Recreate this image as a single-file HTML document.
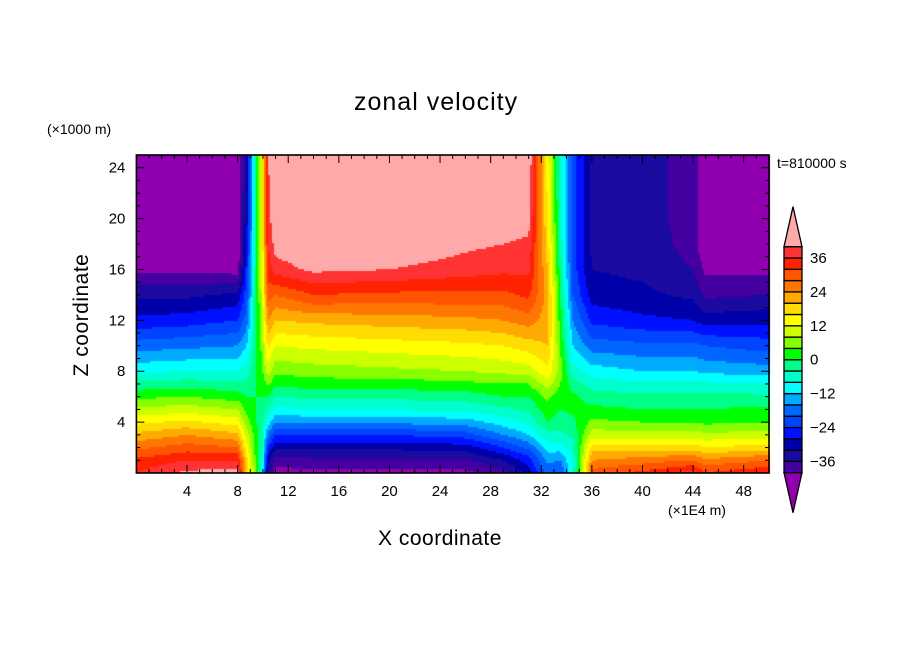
<!DOCTYPE html>
<html><head><meta charset="utf-8"><style>
body{margin:0;background:#fff;}
#wrap{position:relative;width:904px;height:654px;overflow:hidden;font-family:"Liberation Sans",sans-serif;}
.t{position:absolute;white-space:nowrap;color:#000;}
</style></head><body>
<div id="wrap">
<canvas id="cv" width="904" height="654" style="position:absolute;left:0;top:0"></canvas>
<svg id="sv" width="904" height="654" style="position:absolute;left:0;top:0"></svg>
<div class="t" style="left:354px;top:88px;font-size:25px;letter-spacing:1px">zonal velocity</div>
<div class="t" style="left:47px;top:121px;font-size:14px">(×1000 m)</div>
<div class="t" style="left:777px;top:155px;font-size:14px">t=810000 s</div>
<div class="t" style="left:668px;top:502px;font-size:14px">(×1E4 m)</div>
<div class="t" style="left:378px;top:527px;font-size:21px;letter-spacing:0.5px">X coordinate</div>
<div class="t" style="left:82px;top:315px;font-size:21px;letter-spacing:0.5px;transform:translate(-50%,-50%) rotate(-90deg)">Z coordinate</div>
</div>
<script>
const xCols=[0,4,8,8.7,9.5,9.9,10.4,11,14,20,26,29,31,32.5,33.5,34.5,36,40,44,45,50];
const zRows=[0,1,2,3,4,5,6,7,8,10,12,14,16,18,20,25];
const c00=[36,33,27,21,15,9,3,-3,-9,-18,-27,-33,-41,-44,-44,-44];
const c04=[41,36,30,24,17,10,4,-2,-8,-17,-26,-33,-41,-44,-44,-44];
const c08=[42,36,28,21,14,8,2,-3,-8,-16,-24,-31,-42,-44,-44,-44];
const c087=[20,18,14,10,6,3,0,-3,-6,-12,-18,-22,-25,-28,-30,-32];
const c095=[2,2,1,1,0,0,0,0,0,0,0,0,0,0,0,0];
const c099=[-6,-5,-4,-3,-2,-1,0,1,3,5,7,9,10,11,12,12];
const c104=[-34,-30,-24,-17,-10,-5,0,5,10,17,24,30,34,36,38,40];
const c11=[-42,-38,-31,-24,-16,-9,-4,1,5,12,20,28,38,42,44,44];
const c14=[-41,-37,-31,-24,-15,-8,-3,2,6,13,21,32,41,44,44,44];
const c20=[-41,-37,-31,-24,-15,-8,-3,2,7,14,22,31,40,44,44,44];
const c26=[-41,-37,-30,-22,-14,-7,-2,3,8,15,23,31,38,41,44,44];
const c29=[-38,-32,-24,-16,-10,-5,0,4,9,16,24,31,37,40,43,44];
const c31=[-30,-26,-19,-12,-7,-3,0,4,10,18,26,33,37,39,42,44];
const c325=[-18,-15,-10,-5,0,2,5,10,15,20,22,22,20,18,16,14];
const c335=[-20,-16,-10,-5,-2,0,2,4,6,4,2,0,-2,-4,-5,-6];
const c345=[-8,-8,-6,-3,-1,1,1,-2,-6,-12,-16,-20,-22,-22,-22,-22];
const c36=[30,24,18,10,5,1,-2,-6,-10,-18,-25,-30,-32,-33,-33,-33];
const c40=[33,26,18,10,4,0,-3,-7,-12,-19,-27,-31,-33,-33,-34,-34];
const c44=[38,28,18,10,4,0,-3,-7,-12,-19,-28,-33,-36,-38,-38,-38];
const c45=[32,25,16,9,3,0,-3,-7,-13,-20,-30,-37,-41,-44,-44,-44];
const c50=[36,28,18,10,4,1,-3,-8,-14,-22,-29,-36,-41,-44,-44,-44];
const columns=[c00,c04,c08,c087,c095,c099,c104,c11,c14,c20,c26,c29,c31,c325,c335,c345,c36,c40,c44,c45,c50];
const levels=[-40,-36,-32,-28,-24,-20,-16,-12,-8,-4,0,4,8,12,16,20,24,28,32,36,40];
const levelColors=["#9000b0","#4400a0","#1a0aa0","#0000aa","#0011ff","#0044ff","#0066ff","#00aaff","#00ffff","#00ffcc","#00ff88","#00ff00","#88ff00","#ccff00","#ffff00","#ffdd00","#ffaa00","#ff7700","#ff5500","#ff2200","#ff3333","#ffaaaa"];
const xTicks=[4,8,12,16,20,24,28,32,36,40,44,48];
const zTicks=[4,8,12,16,20,24];
const cbLabels=[36,24,12,0,-12,-24,-36];

const PX0=136.4,PX1=769,PY0=155,PY1=473,XMAX=50,ZMAX=25;
const sx=x=>PX0+x/XMAX*(PX1-PX0);
const sz=z=>PY1-z/ZMAX*(PY1-PY0);
function seg(arr,v){let i=0;while(i<arr.length-2&&v>arr[i+1])i++;return i;}
function val(x,z){
  const i=seg(xCols,x),j=seg(zRows,z);
  const tx=Math.min(1,Math.max(0,(x-xCols[i])/(xCols[i+1]-xCols[i])));
  const tz=Math.min(1,Math.max(0,(z-zRows[j])/(zRows[j+1]-zRows[j])));
  const a=columns[i][j]*(1-tz)+columns[i][j+1]*tz;
  const b=columns[i+1][j]*(1-tz)+columns[i+1][j+1]*tz;
  return a*(1-tx)+b*tx;
}
function colorOf(v){let k=0;while(k<levels.length&&v>=levels[k])k++;return levelColors[k];}
const ctx=document.getElementById('cv').getContext('2d');
const step=2;
for(let px=Math.floor(PX0);px<PX1;px+=step){
  for(let py=PY0;py<PY1;py+=step){
    const x=(px+step/2-PX0)/(PX1-PX0)*XMAX, z=(PY1-(py+step/2))/(PY1-PY0)*ZMAX;
    ctx.fillStyle=colorOf(val(x,z));
    ctx.fillRect(px,py,step,step);
  }
}
const NS='http://www.w3.org/2000/svg';
const sv=document.getElementById('sv');
function mk(tag,attrs,txt){const e=document.createElementNS(NS,tag);for(const k in attrs)e.setAttribute(k,attrs[k]);if(txt!==undefined)e.textContent=txt;sv.appendChild(e);return e;}
let fr=mk('rect',{x:PX0,y:PY0,width:PX1-PX0,height:PY1-PY0,fill:'none',stroke:'#000','stroke-width':1.6});


for(let x=1;x<XMAX;x++){
  const L=x%4===0?8:4;
  mk('line',{x1:sx(x),x2:sx(x),y1:PY1,y2:PY1-L,stroke:'#000','stroke-width':1});
  mk('line',{x1:sx(x),x2:sx(x),y1:PY0,y2:PY0+L,stroke:'#000','stroke-width':1});
}
for(let z=1;z<ZMAX;z++){
  const L=z%4===0?8:4;
  mk('line',{x1:PX0,x2:PX0+L,y1:sz(z),y2:sz(z),stroke:'#000','stroke-width':1});
  mk('line',{x1:PX1,x2:PX1-L,y1:sz(z),y2:sz(z),stroke:'#000','stroke-width':1});
}
xTicks.forEach(t=>{const e=mk('text',{x:sx(t),y:PY1+23,'text-anchor':'middle','font-size':15,'font-family':'Liberation Sans, sans-serif'},String(t));

});
zTicks.forEach(t=>{const e=mk('text',{x:PX0-11,y:sz(t)+5,'text-anchor':'end','font-size':15,'font-family':'Liberation Sans, sans-serif'},String(t));

});
const CBX=784,CBW=18,CBT=246.7,CBB=472.7,nB=levels.length-1,bh=(CBB-CBT)/nB;
const cy=v=>CBT+(levels[nB]-v)/(levels[nB]-levels[0])*(CBB-CBT);
for(let k=0;k<nB;k++){
  const r=mk('rect',{x:CBX,y:cy(levels[k+1]),width:CBW,height:bh,fill:levelColors[k+1],stroke:'#000','stroke-width':1.3});
  
  
}
let tu=mk('polygon',{points:`${CBX},${CBT} ${CBX+CBW},${CBT} ${CBX+CBW/2},${CBT-40}`,fill:levelColors[levelColors.length-1],stroke:'#000','stroke-width':1.3});


let td=mk('polygon',{points:`${CBX},${CBB} ${CBX+CBW},${CBB} ${CBX+CBW/2},${CBB+40}`,fill:levelColors[0],stroke:'#000','stroke-width':1.3});


cbLabels.forEach(v=>{const e=mk('text',{x:810,y:cy(v)+5,'font-size':15,'font-family':'Liberation Sans, sans-serif'},(v<0?'\u2212'+(-v):String(v)));

});
</script>
</body></html>
